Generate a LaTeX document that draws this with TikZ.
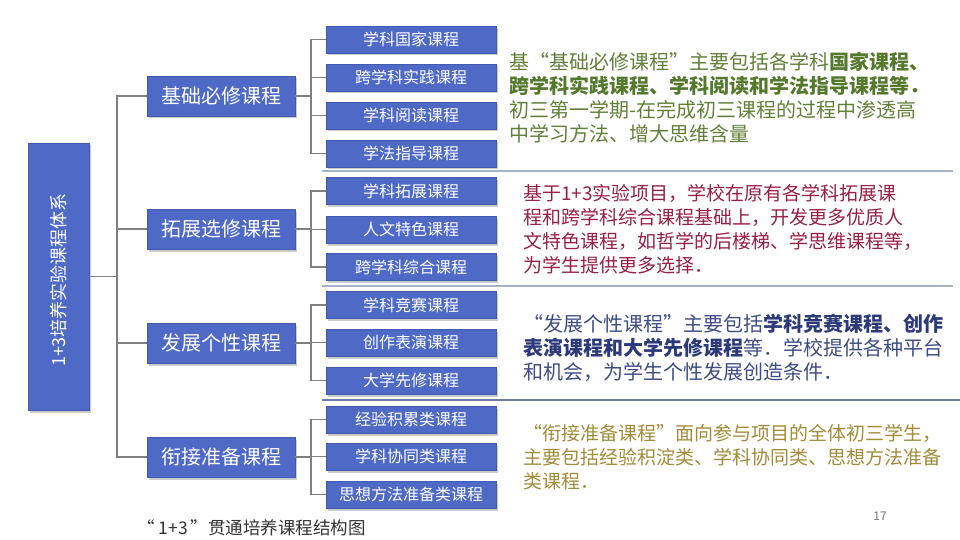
\documentclass[tikz,border=0pt]{standalone}
\usepackage{fontspec}
\setmainfont{Noto Sans CJK SC}
\usetikzlibrary{shadows}
\definecolor{boxblue}{RGB}{78,106,198}
\definecolor{boxedge}{RGB}{64,90,176}
\definecolor{conngray}{RGB}{128,128,128}
\definecolor{sepA}{RGB}{168,178,198}
\definecolor{sepB}{RGB}{110,124,165}
\definecolor{tgreen}{RGB}{98,128,56}
\definecolor{tgreenb}{RGB}{84,120,44}
\definecolor{tred}{RGB}{152,32,66}
\definecolor{tblue}{RGB}{62,76,132}
\definecolor{tblueb}{RGB}{44,58,122}
\definecolor{tgold}{RGB}{162,140,56}
\definecolor{capgray}{RGB}{51,51,51}
\definecolor{pggray}{RGB}{120,120,120}
\begin{document}
\begin{tikzpicture}[x=1pt,y=-1pt,
  box/.style={fill=boxblue, draw=boxedge, line width=0.6pt, text=white, inner sep=0pt,
    drop shadow={shadow xshift=1.5pt, shadow yshift=-2.5pt, fill=black!45, opacity=0.45}},
  lvl/.style={box, minimum width=148pt, minimum height=40pt, font=\fontsize{20}{20}\selectfont},
  leaf/.style={box, minimum width=170pt, minimum height=27pt, font=\fontsize{16}{16}\selectfont},
  conn/.style={draw=conngray, line width=1.5pt},
  sepline/.style={draw=sepA, line width=2pt},
  sepdark/.style={draw=sepB, line width=1.5pt},
  txtA/.style={anchor=base west, inner sep=0pt, font=\fontsize{20}{20}\selectfont},
  txtB/.style={anchor=base west, inner sep=0pt, font=\fontsize{19}{19}\selectfont}
]
\useasboundingbox (0,0) rectangle (960,540);
\fill[white] (0,0) rectangle (960,540);

% separators
\draw[sepline] (322,171) -- (953,171);
\draw[sepline] (322,286) -- (953,286);
\draw[sepdark] (322,400) -- (960,400);

% root
\node[box, minimum width=61pt, minimum height=267pt] (root) at (58.5,276.5) {};
\node[rotate=90, text=white, inner sep=0pt, font=\fontsize{18}{18}\selectfont] (roottxt) at (59,280) {1+3培养实验课程体系};

% level 2
\node[lvl] (L1) at (221,96) {基础必修课程};
\node[lvl] (L2) at (221,229) {拓展选修课程};
\node[lvl] (L3) at (221,343) {发展个性课程};
\node[lvl] (L4) at (221,457) {衔接准备课程};

% leaves
\node[leaf] (A1) at (411,39.5) {学科国家课程};
\node[leaf] (A2) at (411,77.5) {跨学科实践课程};
\node[leaf] (A3) at (411,115.5) {学科阅读课程};
\node[leaf] (A4) at (411,153.5) {学法指导课程};
\node[leaf] (B1) at (411,191) {学科拓展课程};
\node[leaf] (B2) at (411,229.5) {人文特色课程};
\node[leaf] (B3) at (411,267) {跨学科综合课程};
\node[leaf] (C1) at (411,305) {学科竞赛课程};
\node[leaf] (C2) at (411,342.5) {创作表演课程};
\node[leaf] (C3) at (411,380.5) {大学先修课程};
\node[leaf] (D1) at (411,419.5) {经验积累类课程};
\node[leaf] (D2) at (411,456.5) {学科协同类课程};
\node[leaf] (D3) at (411,494.5) {思想方法准备类课程};

% trunk
\coordinate (t) at (117,0);
\coordinate (s) at (311,0);
\draw[conn] (root.east) -- (t |- root.east);
\draw[conn] (L1.west) -| (t |- L4.west) -- (L4.west);
\draw[conn] (L2.west) -- (t |- L2.west);
\draw[conn] (L3.west) -- (t |- L3.west);

% group 1
\draw[conn] (L1.east) -- (s |- L1.east);
\draw[conn] (A1.west) -| (s |- A4.west) -- (A4.west);
\draw[conn] (A2.west) -- (s |- A2.west);
\draw[conn] (A3.west) -- (s |- A3.west);
% group 2
\draw[conn] (L2.east) -- (s |- L2.east);
\draw[conn] (B1.west) -| (s |- B3.west) -- (B3.west);
\draw[conn] (B2.west) -- (s |- B2.west);
% group 3
\draw[conn] (L3.east) -- (s |- L3.east);
\draw[conn] (C1.west) -| (s |- C3.west) -- (C3.west);
\draw[conn] (C2.west) -- (s |- C2.west);
% group 4
\draw[conn] (L4.east) -- (s |- L4.east);
\draw[conn] (D1.west) -| (s |- D3.west) -- (D3.west);
\draw[conn] (D2.west) -- (s |- D2.west);

% text block 1
\node[txtA, text=tgreen] (g1) at (509,69.6) {基“基础必修课程”主要包括各学科{\color{tgreenb}\bfseries 国家课程、}};
\node[txtA, text=tgreenb] (g2) at (509,93.6) {\bfseries 跨学科实践课程、学科阅读和学法指导课程等．};
\node[txtA, text=tgreen] (g3) at (509,117.6) {初三第一学期-在完成初三课程的过程中渗透高};
\node[txtA, text=tgreen] (g4) at (509,141.6) {中学习方法、增大思维含量};

% text block 2
\node[txtB, text=tred] (r1) at (523,200.2) {基于1+3实验项目，学校在原有各学科拓展课};
\node[txtB, text=tred] (r2) at (523,224.2) {程和跨学科综合课程基础上，开发更多优质人};
\node[txtB, text=tred] (r3) at (523,248.2) {文特色课程，如哲学的后楼梯、学思维课程等，};
\node[txtB, text=tred] (r4) at (523,272.2) {为学生提供更多选择．};

% text block 3
\node[txtA, text=tblue] (b1) at (523,331.6) {“发展个性课程”主要包括{\color{tblueb}\bfseries 学科竞赛课程、创作}};
\node[txtA, text=tblue] (b2) at (523,355.6) {{\color{tblueb}\bfseries 表演课程和大学先修课程}等．学校提供各种平台};
\node[txtA, text=tblue] (b3) at (523,379.6) {和机会，为学生个性发展创造条件．};

% text block 4
\node[txtB, text=tgold] (y1) at (523,440) {“衔接准备课程”面向参与项目的全体初三学生，};
\node[txtB, text=tgold] (y2) at (523,464) {主要包括经验积淀类、学科协同类、思想方法准备};
\node[txtB, text=tgold] (y3) at (523,488) {类课程．};

% caption and page number
\node[text=capgray, inner sep=0pt, anchor=west, font=\fontsize{17.5}{17.5}\selectfont] (cap) at (137,528) {“\hspace{4pt}1+3\hspace{3pt}”贯通培养课程结构图};
\node[text=pggray, inner sep=0pt, font=\fontsize{12}{12}\selectfont] (pg) at (880,516) {17};
\end{tikzpicture}
\end{document}
